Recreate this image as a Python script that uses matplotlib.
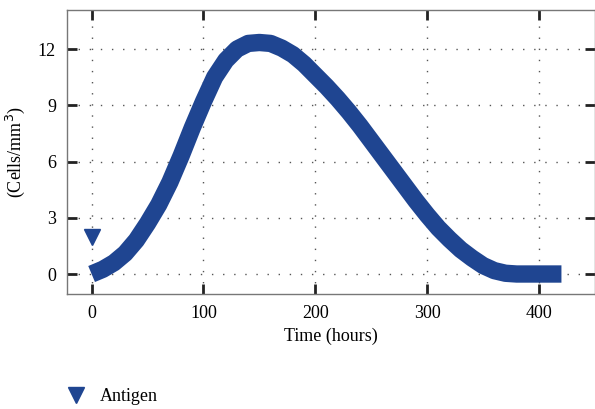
import matplotlib
matplotlib.use('Agg')
import matplotlib.pyplot as plt
from matplotlib.lines import Line2D

# Datos
tiempo = [0, 10, 20, 30, 40, 50, 60, 70, 80, 90, 100, 110, 120, 130, 140, 150,
          160, 170, 180, 190, 200, 210, 220, 230, 240, 250, 260, 270, 280, 290,
          300, 310, 320, 330, 340, 350, 360, 370, 380, 390, 400, 410, 420]
antigeno = [0.0, 0.25, 0.6, 1.1, 1.8, 2.7, 3.7, 4.9, 6.3, 7.8, 9.2, 10.5, 11.4,
            12.0, 12.3, 12.35, 12.3, 12.05, 11.7, 11.2, 10.6, 10.0, 9.35, 8.65,
            7.9, 7.1, 6.3, 5.5, 4.7, 3.9, 3.15, 2.45, 1.85, 1.3, 0.85, 0.45,
            0.18, 0.04, 0.0, 0.0, 0.0, 0.0, 0.0]
punto_t = [0]
punto_y = [1.95]

xticks = [0, 100, 200, 300, 400]
yticks = [0, 3, 6, 9, 12]

azul = '#1f4591'
plt.rcParams['font.family'] = ['Liberation Serif', 'DejaVu Serif']

fig = plt.figure(figsize=(5.95, 4.09), dpi=100)
ax = fig.add_axes([0.1126, 0.281, 0.8874, 0.6944])

ax.plot(tiempo, antigeno, color=azul, linewidth=12.5, solid_capstyle='butt',
        solid_joinstyle='round', zorder=3)
ax.plot(punto_t, punto_y, linestyle='none', marker='v', markersize=12,
        color=azul, zorder=3)

ax.set_xlim(-22, 450)
ax.set_ylim(-1.07, 14.08)
ax.set_xticks(xticks)
ax.set_yticks(yticks)
ax.tick_params(direction='in', length=7, width=2, color='#222222',
               top=True, right=True, labelsize=13, pad=8)
ax.grid(True, color='#555555', linestyle=(0, (1, 7)), linewidth=1)
for s in ax.spines.values():
    s.set_color('#777777')
    s.set_linewidth(1)

ax.set_xlabel('Time (hours)', fontsize=13, labelpad=4)
ax.set_ylabel('(Cells/mm$^3$)', fontsize=13, labelpad=8)

handle = Line2D([], [], linestyle='none', marker='v', markersize=12, color=azul)
fig.legend([handle], ['Antigen'], loc='center left',
           bbox_to_anchor=(0.07, 0.03), frameon=False, fontsize=13,
           handletextpad=0.3)

fig.savefig('out.png', dpi=100)
